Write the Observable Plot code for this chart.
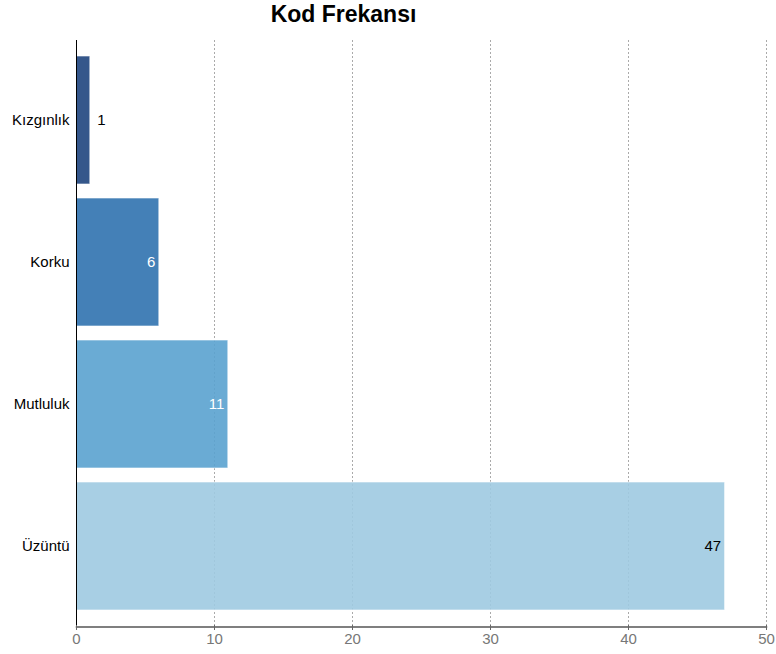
<!DOCTYPE html>
<html>
<head>
<meta charset="utf-8">
<script src="https://cdn.jsdelivr.net/npm/d3@7"></script>
<script src="https://cdn.jsdelivr.net/npm/@observablehq/plot@0.6"></script>
<style>
  html, body { margin: 0; padding: 0; background: white; }
  body { position: relative; width: 776px; height: 654px; }
  #title { position: absolute; left: 0; top: 3px; width: 687px; text-align: center; font-family: "Liberation Sans", Arial, sans-serif; font-weight: bold; font-size: 23px; line-height: 23px; color: #000; }
  #chart svg { display: block; }
</style>
</head>
<body>
<div id="chart"></div>
<div id="title">Kod Frekansı</div>
<script>
const categories = ["Kızgınlık", "Korku", "Mutluluk", "Üzüntü"];
const counts = [1, 6, 11, 47];
const xTicks = [0, 10, 20, 30, 40, 50];
const palette = ["#1f457e", "#3072af", "#5aa2cf", "#9fcae1"];

const data = categories.map((c, i) => ({ code: c, n: counts[i] }));
const outside = data.filter(d => d.n < 3);
const insideWhite = data.filter(d => d.n >= 3 && d.n < 20);
const insideBlack = data.filter(d => d.n >= 20);

const chart = Plot.plot({
  width: 776,
  height: 654,
  marginTop: 40,
  marginBottom: 29,
  marginLeft: 76,
  marginRight: 10,
  style: { fontFamily: "'Liberation Sans', Arial, sans-serif", fontSize: "15px", background: "white" },
  x: { domain: [0, 50], label: null },
  y: { domain: categories, padding: 0.1, label: null },
  color: { domain: categories, range: palette },
  marks: [
    Plot.gridX(xTicks.slice(1), { stroke: "#aaa", strokeOpacity: 1, strokeDasharray: "2,2" }),
    Plot.barX(data, { x: "n", y: "code", fill: "code", fillOpacity: 0.9, stroke: "white", strokeOpacity: 0.6, strokeWidth: 1 }),
    Plot.text(outside, { x: "n", y: "code", text: d => String(d.n), textAnchor: "start", dx: 7, fill: "black", fontSize: 15 }),
    Plot.text(insideWhite, { x: "n", y: "code", text: d => String(d.n), textAnchor: "end", dx: -4, fill: "white", fontSize: 15 }),
    Plot.text(insideBlack, { x: "n", y: "code", text: d => String(d.n), textAnchor: "end", dx: -4, fill: "black", fontSize: 15 }),
    Plot.ruleX([0], { stroke: "black", strokeWidth: 1 }),
    Plot.frame({ anchor: "bottom", stroke: "#555", strokeWidth: 1.5, dy: 1.5 }),
    Plot.axisX({ ticks: xTicks, tickSize: 5, stroke: "#666", fill: "#777", tickPadding: 3, fontSize: 15, label: null }),
    Plot.axisY({ tickSize: 0, tickPadding: 7, fill: "black", fontSize: 15, label: null })
  ]
});
document.getElementById("chart").appendChild(chart);
</script>
</body>
</html>
